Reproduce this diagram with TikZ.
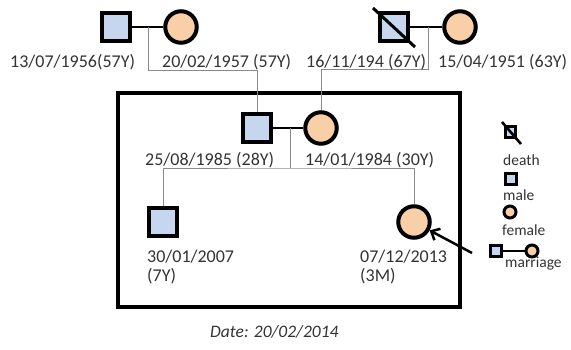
\documentclass[tikz,border=0pt]{standalone}
\usepackage{fontspec}
\setmainfont{Carlito}
\usetikzlibrary{arrows.meta}
\definecolor{mfill}{HTML}{C6D6EF}
\definecolor{ffill}{HTML}{F8CFA6}
\definecolor{txt}{HTML}{333333}
\definecolor{thinline}{HTML}{8A8A8A}
\begin{document}
\begin{tikzpicture}[x=1pt,y=-1pt,
  male/.style={rectangle,draw=black,line width=4pt,fill=mfill,minimum size=27.5pt,inner sep=0pt},
  female/.style={circle,draw=black,line width=4pt,fill=ffill,minimum size=31.5pt,inner sep=0pt},
  lmale/.style={rectangle,draw=black,line width=3pt,fill=mfill,minimum size=10.5pt,inner sep=0pt},
  lfemale/.style={circle,draw=black,line width=3pt,fill=ffill,minimum size=12pt,inner sep=0pt},
  marriage/.style={line width=2.6pt,draw=black},
  descent/.style={line width=0.8pt,draw=thinline},
  lbl/.style={anchor=base west,inner sep=0pt,text=txt,font=\fontsize{18}{20}\selectfont},
  leg/.style={anchor=base west,inner sep=0pt,text=txt,font=\fontsize{15.5}{18}\selectfont},
  deathmark/.style={line width=3pt,draw=black}
]
\useasboundingbox (0,0) rectangle (571,349);

% family box
\draw[line width=3.5pt] (118,93) rectangle (460,307);

% grandparents
\node[male] (gf1) at (116,27) {};
\node[female] (gm1) at (181,27) {};
\node[male] (gf2) at (394,27) {};
\node[female] (gm2) at (460,27) {};
\draw[deathmark] (373,8) -- (415,47);

% parents
\node[male] (father) at (257,128) {};
\node[female] (mother) at (321,128) {};

% children
\node[male] (son) at (163,222) {};
\node[female] (daughter) at (414,222) {};

% marriage lines
\draw[marriage] (gf1) -- (gm1);
\draw[marriage] (gf2) -- (gm2);
\draw[marriage] (father) -- (mother);

% descent lines
\coordinate (m1) at (148,27);
\coordinate (m2) at (428,27);
\coordinate (m3) at (290,128);
\draw[descent] (m1) -- ++(0,43) -| (father.north);
\draw[descent] (m2) -- ++(0,42) -| (mother.north);
\coordinate (sib) at (290,168);
\draw[descent] (m3) -- (sib);
\draw[descent] (son.north) |- (sib) -| (daughter.north);

% labels
\node[lbl] (l1) at (10,67) {13/07/1956(57Y)};
\node[lbl] (l2) at (162,67) {20/02/1957 (57Y)};
\node[lbl] (l3) at (306,67) {16/11/194 (67Y)};
\node[lbl] (l4) at (438,67) {15/04/1951 (63Y)};
\node[lbl] (l5) at (145,165) {25/08/1985 (28Y)};
\node[lbl] (l6) at (305,165) {14/01/1984 (30Y)};
\node[lbl] (l7) at (147,262) {30/01/2007};
\node[lbl] (l8) at (147,281) {(7Y)};
\node[lbl] (l9) at (360,262) {07/12/2013};
\node[lbl] (l10) at (360,281) {(3M)};

% arrow
\coordinate (arr) at (472,253);
\draw[line width=2.5pt,-{Straight Barb[length=7pt,width=13pt]}] (arr) -- (daughter);

% legend
\node[lmale] (ld) at (510.5,132) {};
\draw[deathmark,line width=2.6pt] (502,122) -- (521,144);
\node[leg] (tdeath) at (503,165) {death};
\node[lmale] (lm) at (511,179) {};
\node[leg] (tmale) at (503,200) {male};
\node[lfemale] (lf) at (510,212) {};
\node[leg] (tfemale) at (502,235) {female};
\node[lmale] (lmm) at (496,251) {};
\node[lfemale] (lmf) at (532,251) {};
\draw[marriage,line width=2.2pt] (lmm) -- (lmf);
\node[leg] (tmarr) at (505,267) {marriage};

% date
\node[anchor=base west,inner sep=0pt,text=txt,font=\fontsize{17.5}{20}\selectfont\itshape] (date) at (210,337) {Date: 20/02/2014};
\end{tikzpicture}
\end{document}
